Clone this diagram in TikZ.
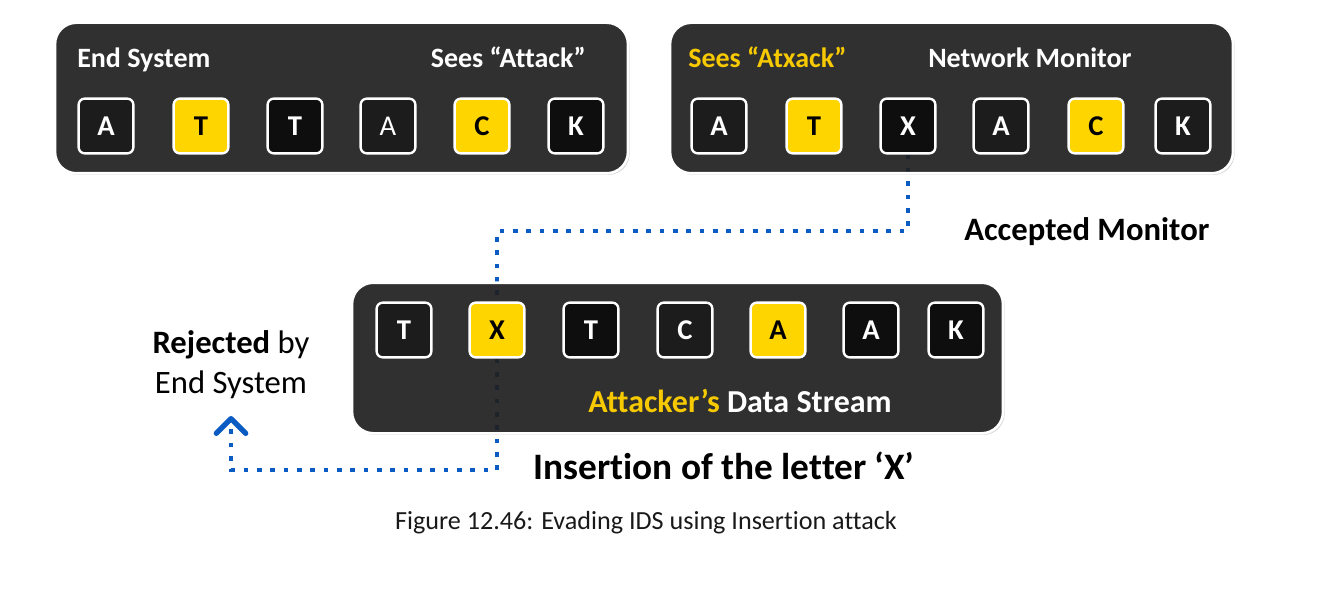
\documentclass[tikz,border=0pt]{standalone}
\usepackage{fontspec}
\setmainfont{Carlito}[Ligatures={NoCommon}]
\usetikzlibrary{arrows.meta}
\usetikzlibrary{positioning}
\usetikzlibrary{shadows}
\definecolor{panelgrey}{HTML}{1A1A1A}
\definecolor{boxdark}{HTML}{1C1C1C}
\definecolor{boxblack}{HTML}{0E0E0E}
\definecolor{boxyellow}{HTML}{FFD500}
\definecolor{textyellow}{HTML}{F7C900}
\definecolor{flowblue}{HTML}{0A5CC2}
\pgfdeclarelayer{back}
\pgfsetlayers{back,main}

\begin{document}
\begin{tikzpicture}[x=0.75pt, y=-0.75pt,
        panel/.style={draw=white, line width=2pt, fill=panelgrey, fill opacity=0.88,
          rounded corners=16pt, minimum height=113pt, inner sep=0pt,
          drop shadow={shadow xshift=1.2pt, shadow yshift=-1.2pt, opacity=0.35}},
        letter/.style={draw=white, line width=1.8pt, rounded corners=4.5pt,
          minimum size=41pt, inner sep=0pt, text=white,
          font=\bfseries\fontsize{21.5}{25}\selectfont},
        letterD/.style={letter, fill=boxdark},
        letterK/.style={letter, fill=boxblack},
        letterY/.style={letter, fill=boxyellow, text=black},
        plbl/.style={text=white, inner sep=0pt, font=\bfseries\fontsize{21}{25}\selectfont},
        outlbl/.style={inner sep=0pt, font=\fontsize{24.5}{29}\selectfont},
        flow/.style={draw=flowblue, line width=3.5pt, dash pattern=on 3.5pt off 6.5pt},
      ]
      \useasboundingbox (0,0) rectangle (1330,602);

      % === End system ===
      \node[panel, minimum width=429.75pt] (esPanel) at (341.5,98) {};
      \node[plbl, anchor=base west] (esLbl) at (77,68) {End System};
      \node[plbl, anchor=base east] (esSees) at (586,68) {Sees “Attack”};

      \node[letterD] (esA1) at (106,126) {A};
      \node[letterY] (esT1) at (201,126) {T};
      \node[letterK] (esT2) at (295,126) {T};
      \node[letterD, font=\fontsize{21.5}{25}\selectfont] (esA2) at (388,126) {A};
      \node[letterY] (esC) at (482,126) {C};
      \node[letterK] (esK) at (576,126) {K};

      % === Network monitor ===
      \node[panel, minimum width=422.25pt] (nmPanel) at (951.5,98) {};
      \node[plbl, text=textyellow, anchor=base west] (nmSees) at (688,68) {Sees “Atxack”};
      \node[plbl, anchor=base west] (nmLbl) at (928,68) {Network Monitor};

      \node[letterD] (nmA1) at (719,126) {A};
      \node[letterY] (nmT) at (814,126) {T};
      \node[letterK] (nmX) at (908,126) {X};
      \node[letterD] (nmA2) at (1001,126) {A};
      \node[letterY] (nmC) at (1096,126) {C};
      \node[letterD] (nmK) at (1183,126) {K};

      % === Attacker's stream ===
      \node[panel, minimum width=488.25pt] (asPanel) at (677.5,358) {};
      \node[letterD] (asT1) at (404,330) {T};
      \node[letterY] (asX) at (497,330) {X};
      \node[letterK] (asT2) at (591,330) {T};
      \node[letterD] (asC) at (685,330) {C};
      \node[letterY] (asA1) at (778,330) {A};
      \node[letterK] (asA2) at (871,330) {A};
      \node[letterK] (asK) at (956,330) {K};
      \node[plbl, anchor=base, font=\bfseries\fontsize{24}{28}\selectfont] (asLbl) at (740,412)
        {\textcolor{textyellow}{Attacker’s} Data Stream};

      % Labels outside
      \node[outlbl, anchor=base west, font=\bfseries\fontsize{24.5}{29}\selectfont] (accLbl) at (964,240) {Accepted Monitor};
      \node[outlbl, anchor=base] (rejA) at (231,353) {\textbf{Rejected} by};
      \node[outlbl, anchor=base] (rejB) at ([yshift=-30pt]rejA.base) {End System};
      \node[outlbl, anchor=base, font=\bfseries\fontsize{28}{33}\selectfont] (insLbl) at (724,479) {Insertion of the letter ‘X’};
      \node[outlbl, anchor=base, text=black!90, font=\fontsize{19.6}{23}\selectfont] (caption) at (646,529)
        {Figure 12.46: Evading IDS using Insertion attack};

      \coordinate (rejTip) at (231,416);

      % Dotted paths (behind the panels)
      \begin{pgfonlayer}{back}
        \draw[flow] (nmX.south) -- (nmX.south |- 0,231) -| (asX.north);
        \draw[flow, -{Straight Barb[length=11pt, width=22pt, line width=4pt, round]}]
          (asX.south) -- (asX.south |- 0,470) -| (rejTip);
      \end{pgfonlayer}

      \end{tikzpicture}
\end{document}
